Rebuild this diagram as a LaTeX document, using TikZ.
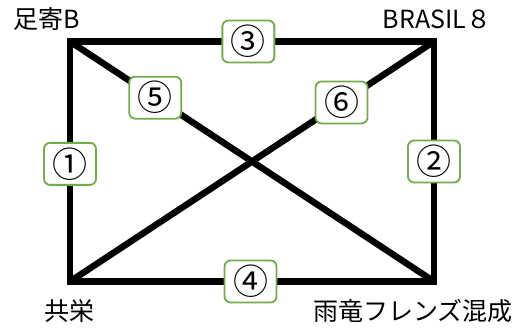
\documentclass[tikz,border=0pt]{standalone}
\usepackage{fontspec}
\setmainfont{Noto Sans CJK JP}
\definecolor{lblgreen}{RGB}{112,173,71}
\begin{document}
\begin{tikzpicture}[x=1pt,y=1pt,
  edge/.style={line width=6.5pt,line join=miter},
  lbl/.style={draw=lblgreen,line width=1.8pt,fill=white,rounded corners=6pt,
    minimum width=52pt,minimum height=42pt,inner sep=0pt,font=\fontsize{35}{35}\selectfont},
  team/.style={font=\fontsize{25}{25}\selectfont,inner sep=0pt}]
\useasboundingbox (0,0) rectangle (524,-328);
\coordinate (tl) at (70,-41.5);
\coordinate (tr) at (434,-41.5);
\coordinate (br) at (434,-281.5);
\coordinate (bl) at (70,-281.5);
\node[team] (ta) at (47,-19) {足寄B};
\node[team] (tb) at (437,-19) {BRASIL８};
\node[team] (tc) at (69,-311) {共栄};
\node[team] (td) at (413,-311) {雨竜フレンズ混成};
\draw[edge] (tl) -- (br);
\draw[edge] (tr) -- (bl);
\draw[edge] (tl) -- (tr) -- (br) -- (bl) -- cycle;
\path (tl) -- node[lbl,pos=0.49] (n3) {③} (tr);
\path (tr) -- node[lbl,pos=0.50] (n2) {②} (br);
\path (bl) -- node[lbl,pos=0.496] (n4) {④} (br);
\path (tl) -- node[lbl,pos=0.51] (n1) {①} (bl);
\path (tl) -- node[lbl,pos=0.234] (n5) {⑤} (br);
\path (tr) -- node[lbl,pos=0.254] (n6) {⑥} (bl);
\end{tikzpicture}
\end{document}
